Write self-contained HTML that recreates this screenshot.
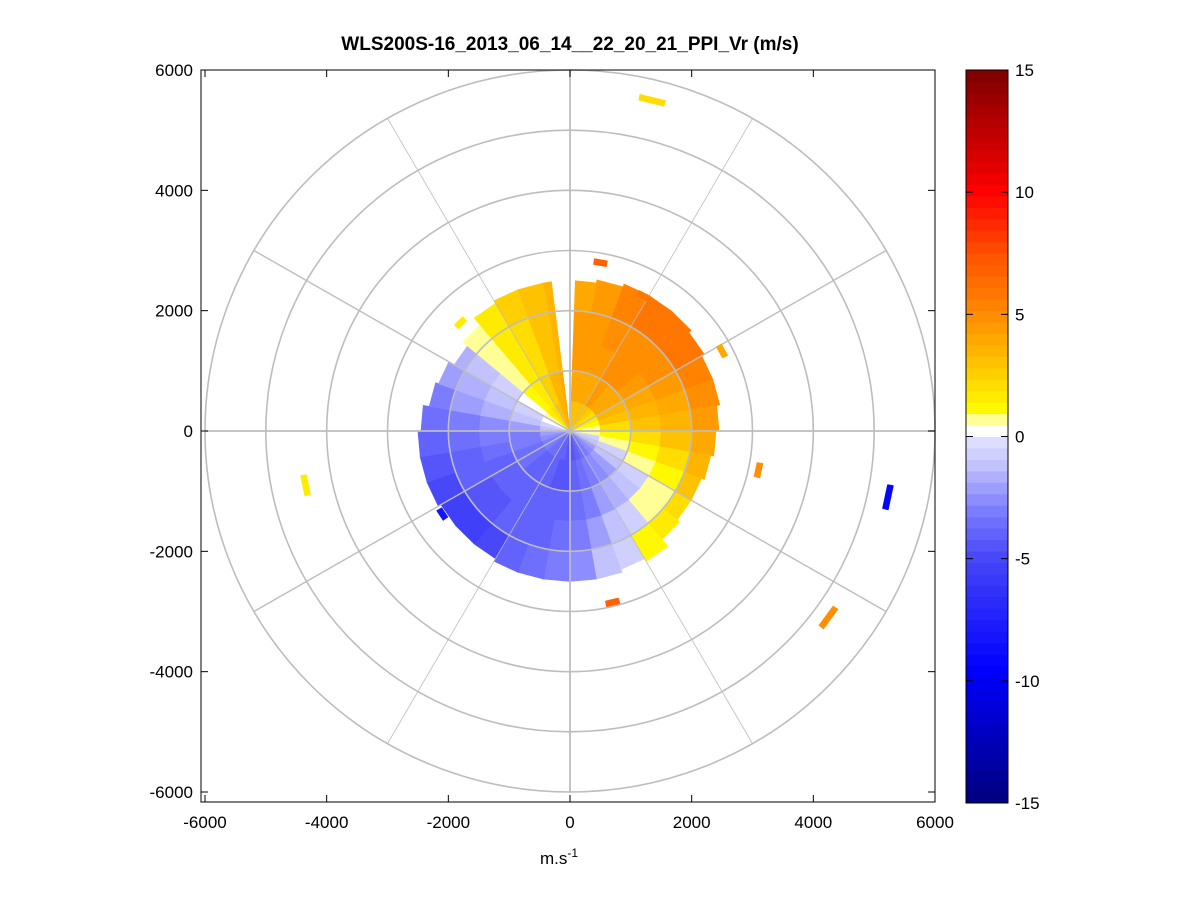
<!DOCTYPE html>
<html><head><meta charset="utf-8">
<style>
body{margin:0;background:#fff;}
svg{display:block;font-family:"Liberation Sans",Arial,sans-serif;}
</style></head>
<body>
<svg id="chart" width="1201" height="901" viewBox="0 0 1201 901" xmlns="http://www.w3.org/2000/svg">
<rect width="1201" height="901" fill="#fff"/>
<text x="570" y="50" text-anchor="middle" font-size="19" font-weight="bold">WLS200S-16_2013_06_14__22_20_21_PPI_Vr (m/s)</text>
<g id="data"></g>
<g id="grid"></g>
<g id="outl"></g>
<rect x="201" y="70" width="734" height="732" fill="none" stroke="#000" stroke-width="1"/>
<g id="axes"></g>
<text x="540" y="864" font-size="17">m.s<tspan dy="-7" font-size="12">-1</tspan></text>
<g id="cbar"></g>
</svg>
<script>
// azimuth sectors (deg, compass), 10 deg wide
const azimuths=[0,10,20,30,40,50,60,70,80,90,100,110,120,130,140,150,160,170,180,190,200,210,220,230,240,250,260,270,280,290,300,310,320,330,340,350];
// velocity per range bin (0-500,500-1000,1000-1500,1500-2000,2000-2500 m)
const bin0=[3,3,3,3,2.5,2,1.5,1,0.8,0.5,-0.5,-1,-2,-2.5,-3,-3.5,-4,-4.5,-4.5,-4,-4,-3.5,-3.5,-3,-3,-2.5,-2,-1,-0.5,0.3,0.8,1.5,2,3,3.5,4];
const bin1=[4,4,4,4.5,4,4,3.5,3,2,1,0.8,-0.5,-1,-2,-2.5,-3,-3.5,-4,-4.5,-4.5,-4,-4,-4,-3.5,-3.5,-3,-3,-2,-1,-0.5,0.3,1,1.5,2.5,3.5,4];
const bin2=[4.5,4.5,4.5,5,5,4.5,4,3.5,3,2,1,0.5,-0.5,-1,-1.5,-2,-3,-3.5,-4,-4,-4,-4,-4,-4,-4,-3.5,-3,-2.5,-1.5,-1,-0.5,0.5,1.5,2,3,3.5];
const bin3=[4.5,4.5,5,5,5,5,4.5,4,3.5,3,2,1,0.5,0.5,-0.5,-1,-2,-3,-3.5,-4,-4,-4,-4.5,-4.5,-4,-4,-3.5,-3,-2,-1.5,-1,0.5,1.5,2,3,3.5];
const bin4=[4,4.5,5.5,6,6,6,5.5,5,4.5,4,3.5,3,2,1.5,1,-0.5,-1,-2.5,-3,-3.5,-4,-5,-5.5,-5.5,-5,-4.5,-4,-3.5,-3,-2,-1.5,0.8,1.5,2.5,3,3.5];
// maximum range per sector (m)
const maxRange=[2500,2550,2600,2600,2600,2550,2500,2500,2450,2400,2350,2300,2300,2350,2500,2450,2500,2500,2500,2500,2500,2450,2450,2450,2500,2500,2500,2450,2350,2300,2200,2300,2450,2500,2500,2500];
// isolated gates: x, y (m), velocity
const outX=[1350,500,1200,2500,3100,5230,4250,700,-4350,-2100,-1800];
const outY=[5500,2800,2250,1330,-650,-1100,-3100,-2850,-900,-1380,1800];
const outV=[2,7,6,4,5,-9,5,7,1.5,-8,1.5];
const ticks=[-6000,-4000,-2000,0,2000,4000,6000];
const cbTicks=[-15,-10,-5,0,5,10,15];

const NS="http://www.w3.org/2000/svg";
const cx=570, cy=431, sx=(935-570)/6000, sy=(431-70)/6000;
const X=v=>cx+v*sx, Y=v=>cy-v*sy;
function mk(t,a,p){const e=document.createElementNS(NS,t);for(const k in a)e.setAttribute(k,a[k]);p.appendChild(e);return e;}
const pos=[[0,[255,255,255]],[0.47,[255,255,255]],[0.48,[255,255,150]],[0.94,[255,255,150]],[0.95,[255,255,0]],[3,[255,195,0]],[5,[255,140,0]],[7.5,[255,80,0]],[10,[255,0,0]],[15,[125,0,0]]];
const neg=[[0,[228,228,255]],[1,[200,200,255]],[3,[125,125,255]],[5,[70,70,248]],[9.5,[0,0,255]],[15,[0,0,125]]];
function cmap(v){
  const step=30/64; let q=Math.floor(v/step)*step+step/2;
  const st=q>=0?pos:neg; const a=Math.abs(q);
  for(let i=1;i<st.length;i++){if(a<=st[i][0]){const t=(a-st[i-1][0])/(st[i][0]-st[i-1][0]||1);
    const c=st[i-1][1].map((c0,j)=>Math.round(c0+(st[i][1][j]-c0)*t));return `rgb(${c})`;}}
  return `rgb(${st[st.length-1][1]})`;
}
function pt(r,az){const a=az*Math.PI/180;return [X(r*Math.sin(a)),Y(r*Math.cos(a))];}
function wedge(r0,r1,a0,a1){const p=[pt(r0,a0),pt(r1,a0),pt(r1,a1),pt(r0,a1)];return 'M'+p.map(q=>q.join(',')).join('L')+'Z';}
const data=document.getElementById('data');
const bins=[bin0,bin1,bin2,bin3,bin4];
azimuths.forEach((az,i)=>{
  let a0=az, a1=az+10; if(az===350)a1=353; if(az===0)a0=2;
  bins.forEach((b,k)=>{
    const r0=k*500, r1=Math.min((k+1)*500,maxRange[i]); if(r1<=r0)return;
    const p=mk('path',{d:wedge(r0,k===4?maxRange[i]:r1,a0,a1),fill:cmap(b[i]),stroke:cmap(b[i]),'stroke-width':0.6},data);
    
    
  });
});
const outl=document.getElementById('outl');
outX.forEach((x,i)=>{
  const r=Math.hypot(x,outY[i]), az=Math.atan2(x,outY[i])*180/Math.PI;
  const p=mk('path',{d:wedge(r-50,r+50,az-2.2,az+2.2),fill:cmap(outV[i]),stroke:cmap(outV[i]),'stroke-width':0.5},outl);
  
  
});
const grid=document.getElementById('grid');
for(let r=1000;r<=6000;r+=1000){
  const c=mk('ellipse',{cx:cx,cy:cy,rx:r*sx,ry:r*sy,fill:'none',stroke:'#bdbdbd','stroke-width':1.6},grid);
  
  
}
for(let a=0;a<360;a+=30){
  const p=pt(6000,a);
  const l=mk('line',{x1:cx,y1:cy,x2:p[0],y2:p[1],stroke:'#bdbdbd','stroke-width':(a%90===0)?1.8:(a%60===0?1.4:0.8)},grid);
  
  
}
const axes=document.getElementById('axes');
ticks.forEach(t=>{
  const x=X(t), y=Y(t);
  mk('line',{x1:x,y1:802,x2:x,y2:795,stroke:'#000'},axes);
  mk('line',{x1:x,y1:70,x2:x,y2:77,stroke:'#000'},axes);
  mk('line',{x1:201,y1:y,x2:208,y2:y,stroke:'#000'},axes);
  mk('line',{x1:935,y1:y,x2:928,y2:y,stroke:'#000'},axes);
  const tx=mk('text',{x:x,y:828,'text-anchor':'middle','font-size':17},axes);tx.textContent=t;
  
  
  const ty=mk('text',{x:193,y:y+6,'text-anchor':'end','font-size':17},axes);ty.textContent=t;
  
  
});
const cb=document.getElementById('cbar');
const cT=70,cB=803,cL=966,cR=1008;
const CY=v=>cB-(v+15)/30*(cB-cT);
for(let i=0;i<64;i++){
  const v0=-15+i*30/64, v1=v0+30/64;
  const r=mk('rect',{x:cL,y:CY(v1),width:cR-cL,height:CY(v0)-CY(v1)+0.5,fill:cmap(v0+0.01)},cb);
  
  
}
mk('rect',{x:cL,y:cT,width:cR-cL,height:cB-cT,fill:'none',stroke:'#000'},cb);
cbTicks.forEach(t=>{
  const y=CY(t);
  mk('line',{x1:cL,y1:y,x2:cL+7,y2:y,stroke:'#000'},cb);
  mk('line',{x1:cR,y1:y,x2:cR-7,y2:y,stroke:'#000'},cb);
  const tx=mk('text',{x:1015,y:y+6,'font-size':17},cb);tx.textContent=t;
  
  
});
</script>
</body></html>
